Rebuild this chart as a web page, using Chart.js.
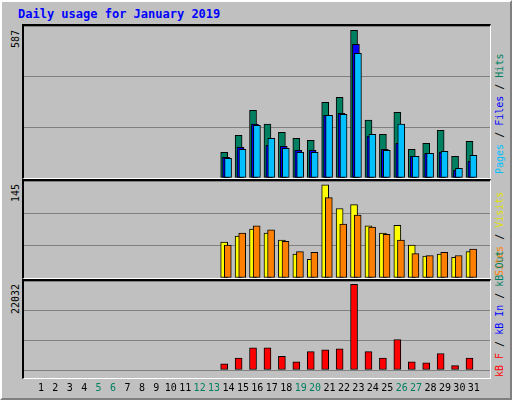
<!DOCTYPE html>
<html><head><meta charset="utf-8">
<script src="https://cdn.jsdelivr.net/npm/chart.js@4"></script>
<style>
body{margin:0;background:#fff}
#frame{position:absolute;left:0;top:0;width:508px;height:396px;background:#c0c0c0;border:2px solid;border-color:#fff #808080 #808080 #fff}
.panel{position:absolute;left:22px;width:466px;background:#c0c0c0;border-top:2px solid #000;border-left:2px solid #000;border-bottom:1px solid #fff;border-right:1px solid #fff}
canvas{position:absolute;left:0;top:0}
.t{position:absolute;font:bold 12px "DejaVu Sans Mono",monospace;white-space:nowrap}
.vl{position:absolute;font:10px "DejaVu Sans Mono",monospace;white-space:nowrap;transform:rotate(-90deg);transform-origin:0 0}
</style></head><body>
<div id="frame"></div>
<div class="t" style="left:18px;top:7px;color:#0000ff">Daily usage for January 2019</div>
<div class="panel" style="top:24px;height:152px"><canvas id="c1"></canvas></div>
<div class="panel" style="top:179px;height:97px"><canvas id="c2"></canvas></div>
<div class="panel" style="top:279px;height:97px"></div>
<div style="position:absolute;left:24px;top:281px;width:466px;height:117px"><canvas id="c3"></canvas></div>
<div class="vl" style="left:10px;top:48px">587</div>
<div class="vl" style="left:10px;top:202px">145</div>
<div class="vl" style="left:10px;top:314px">22032</div>
<div class="vl" style="left:494px;top:174px"><span style="color:#00c0ff">Pages</span> / <span style="color:#0000ff">Files</span> / <span style="color:#008060">Hits</span></div>
<div class="vl" style="left:494px;top:276px"><span style="color:#ff8000">Sites</span> / <span style="color:#e0e000">Visits</span></div>
<div class="vl" style="left:494px;top:377px"><span style="color:#ff0000">kB F</span> / <span style="color:#0000ff">kB In</span> / <span style="color:#008060">kB Out</span></div>
<script>
const days=[14,15,16,17,18,19,20,21,22,23,24,25,26,27,28,29,30,31];
const hits=[102,170,269,214,182,158,150,301,321,587,230,174,261,114,138,190,86,146];
const files=[82,122,214,130,126,110,110,249,257,532,166,114,138,86,98,102,31,66];
const pages=[78,114,210,158,118,102,102,249,253,496,174,110,214,86,98,106,38,90];
const visits=[56,65,76,70,59,37,29,145,108,114,81,70,82,51,34,37,32,41];
const sites=[51,70,81,75,57,41,40,125,84,98,79,68,59,38,35,40,35,45];
const kbf=[1602,3044,5687,5687,3524,2083,4726,5207,5447,22032,4726,3044,7850,2083,1842,4245,1121,3044];
const dayLabels=Array.from({length:31},(_,i)=>String(i+1));
const weekend=[5,6,12,13,19,20,26,27];
function pts(arr,off){return arr.map((v,i)=>({x:days[i]+off,y:v}));}
function ds(arr,off,color,order){return{data:pts(arr,off),order:order,backgroundColor:color,borderColor:'#000',borderWidth:1,barThickness:7,grouped:false,borderSkipped:false};}
function opts(max,showX){return{responsive:false,animation:false,events:[],layout:{padding:0},
 plugins:{legend:{display:false},tooltip:{enabled:false}},
 scales:{x:{type:'linear',min:0.35,max:31.6,display:showX,grid:{display:false},border:{display:false},
   afterBuildTicks:s=>{s.ticks=dayLabels.map(d=>({value:+d}));},
   ticks:{autoSkip:false,maxRotation:0,padding:4,font:{family:'DejaVu Sans Mono',size:10},
     color:c=>weekend.includes(c.tick.value)?'#008060':'#000',callback:v=>String(v)}},
  y:{min:0,max:max,display:true,afterFit:s=>{s.width=0;},ticks:{display:false,stepSize:max/3},border:{display:false},
   grid:{color:'#808080',lineWidth:1,drawTicks:false}}}};}
function mk(id,w,h,datasets,max,showX){const c=document.getElementById(id);c.width=w;c.height=h;
 new Chart(c,{type:'bar',data:{datasets},options:opts(max,showX)});}
mk('c1',466,152,[ds(hits,-0.3,'#008060',3),ds(files,-0.17,'#0000ff',2),ds(pages,-0.03,'#00c0ff',1)],587*1.03,false);
mk('c2',466,97,[ds(visits,-0.3,'#ffff00',2),ds(sites,-0.05,'#ff8000',1)],145*1.04,false);
mk('c3',466,117,[ds(kbf,-0.3,'#ff0000',1)],22032*1.04,true);
</script></body></html>
